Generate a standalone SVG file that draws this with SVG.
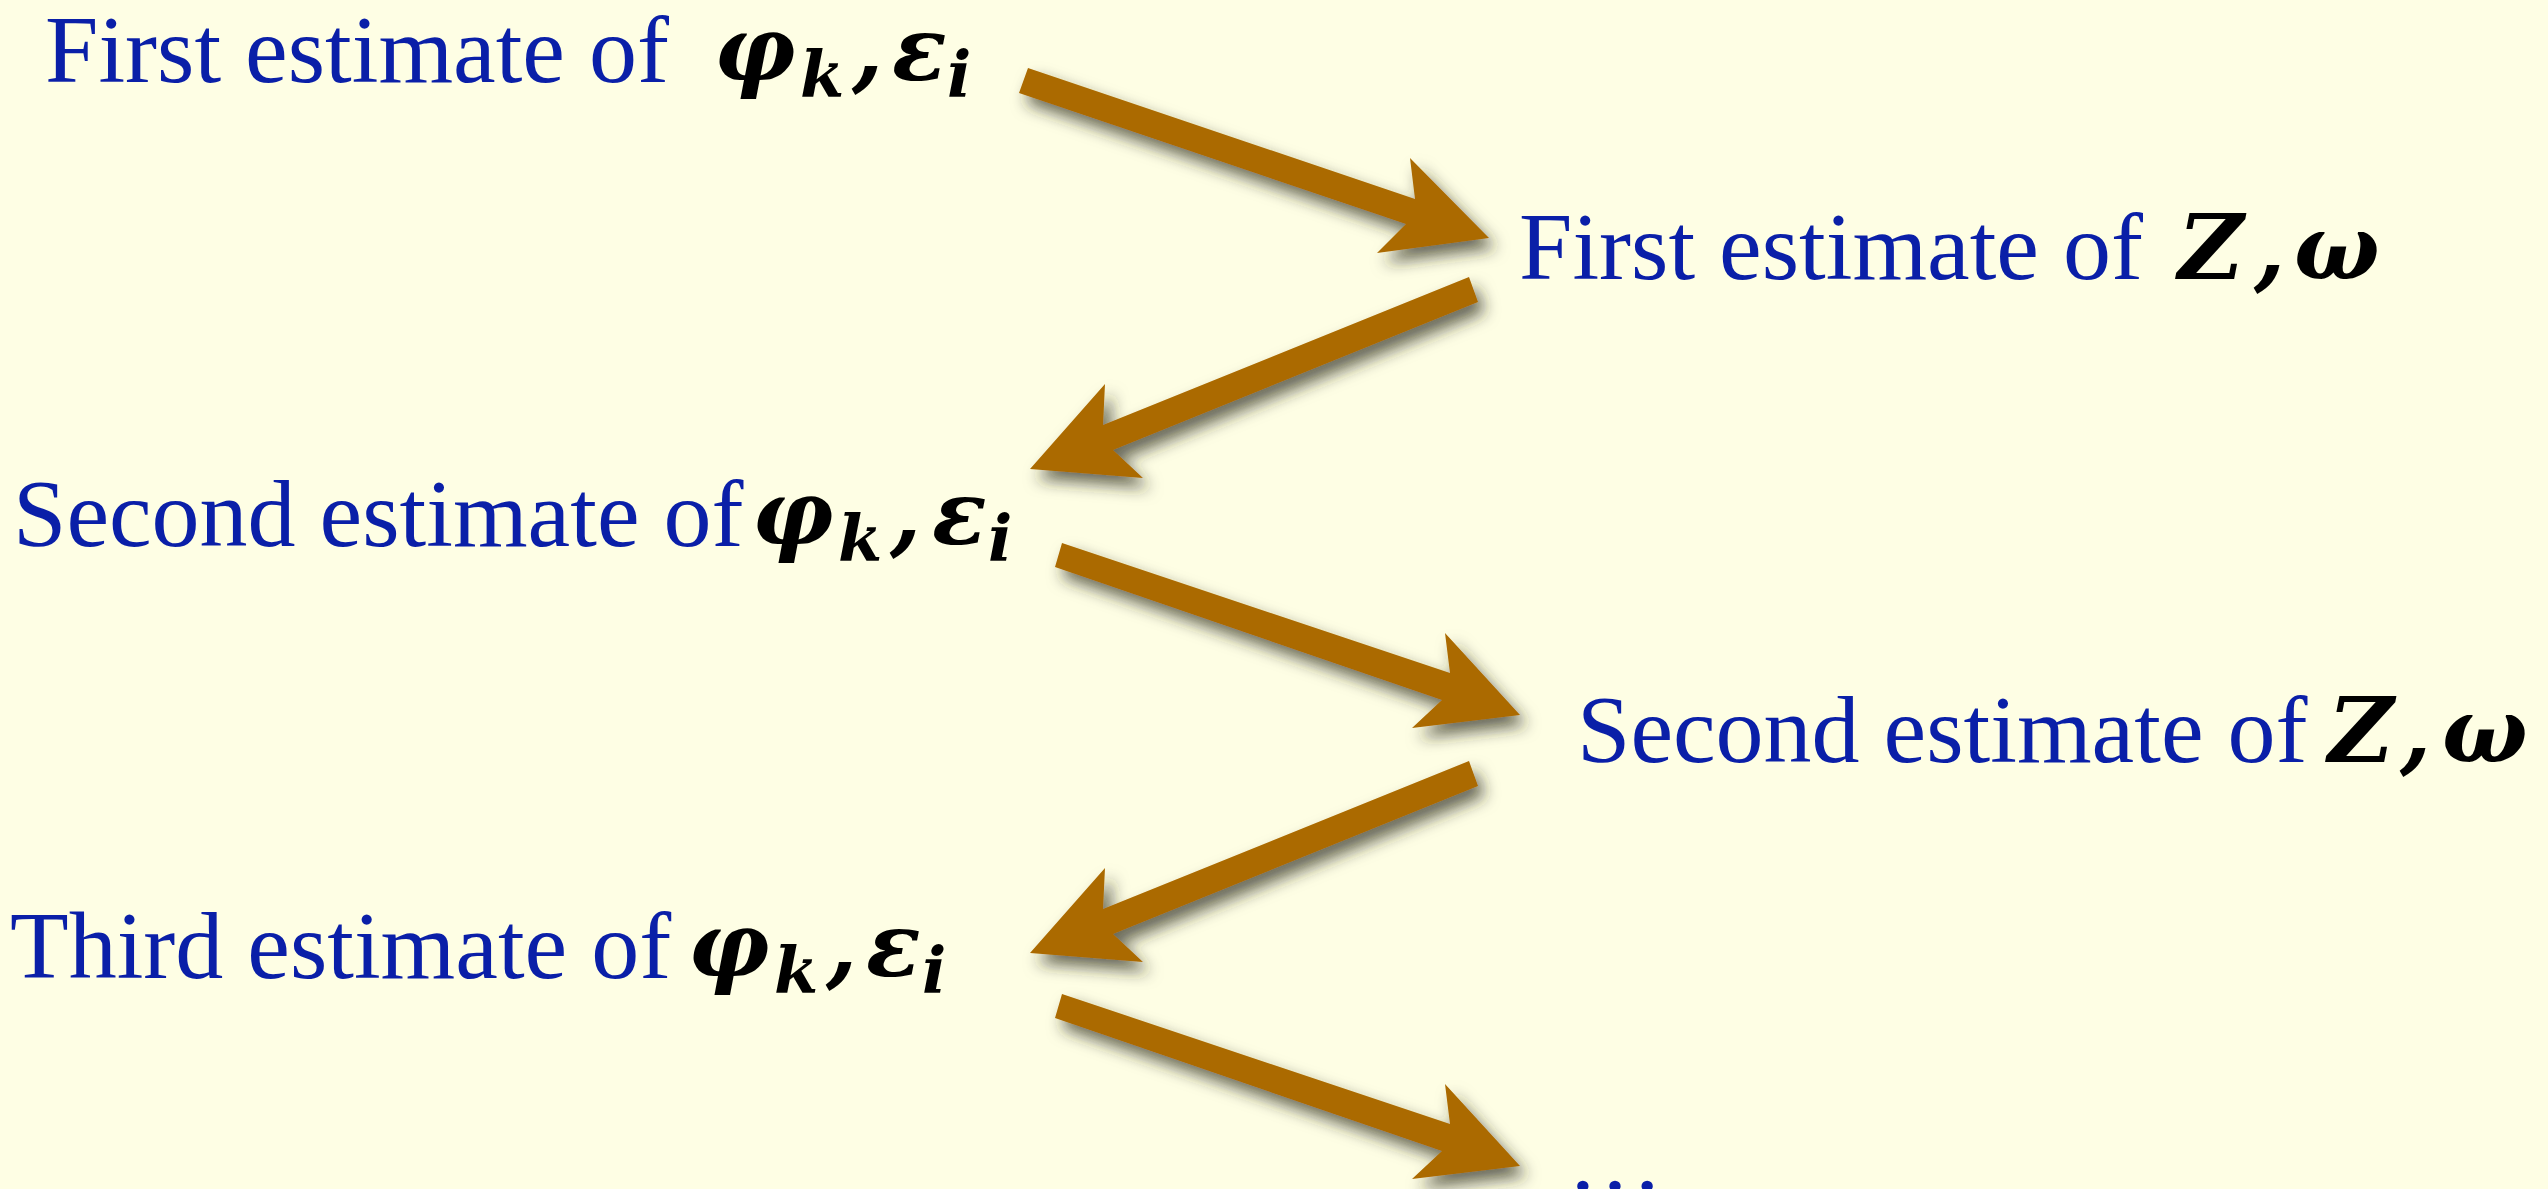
<svg xmlns="http://www.w3.org/2000/svg" width="2548" height="1189" viewBox="0 0 2548 1189">
<style>
.lbl{font-family:"Liberation Serif","Times New Roman",serif;font-size:96px;fill:#0A1FA8}
.m{font-family:"DejaVu Serif","Liberation Serif",serif;font-style:italic;font-weight:bold;font-size:90px;fill:#000}
.s{font-family:"DejaVu Serif","Liberation Serif",serif;font-style:italic;font-weight:bold;font-size:64px;fill:#000}
.arrow{fill:#AB6A00;filter:url(#sh)}
</style>
<defs>
<filter id="sh" x="-20%" y="-40%" width="140%" height="180%">
<feDropShadow dx="7" dy="10" stdDeviation="8" flood-color="#2a2a1e" flood-opacity="0.7"/>
</filter>
</defs>
<rect width="2548" height="1189" fill="#FEFEE4"/>
<g id="connectors">
<polygon class="arrow" points="1028,68 1415,199 1410,158 1489,238 1377,253 1406,224 1019,93"/>
<polygon class="arrow" points="1469,277 1103,425 1105,384 1030,469 1143,478 1113,450 1478,302"/>
<polygon class="arrow" points="1062,543 1450,673 1445,633 1520,715 1412,728 1442,700 1055,567"/>
<polygon class="arrow" points="1469,761 1103,909 1105,868 1030,953 1143,962 1113,934 1478,786"/>
<polygon class="arrow" points="1062,994 1450,1124 1445,1084 1520,1166 1412,1179 1442,1151 1055,1018"/>
</g>
<g id="node1">
<text class="lbl" x="45" y="82">First estimate of</text>
<text class="m" x="714" y="80">φ</text><text class="s" x="800" y="96">k</text><text class="m" x="852" y="80">,</text><text class="m" x="892" y="80">ε</text><text class="s" x="947" y="96">i</text>
</g>
<g id="node2">
<text class="lbl" x="1519" y="279">First estimate of</text>
<text class="m" x="2178" y="279">Z</text><text class="m" x="2254" y="279">,</text><text class="m" x="2294" y="279">ω</text>
</g>
<g id="node3">
<text class="lbl" x="13" y="546">Second estimate of</text>
<text class="m" x="752" y="544">φ</text><text class="s" x="838" y="560">k</text><text class="m" x="890" y="544">,</text><text class="m" x="932" y="544">ε</text><text class="s" x="988" y="560">i</text>
</g>
<g id="node4">
<text class="lbl" x="1577" y="762">Second estimate of</text>
<text class="m" x="2328" y="762">Z</text><text class="m" x="2400" y="762">,</text><text class="m" x="2442" y="762">ω</text>
</g>
<g id="node5">
<text class="lbl" x="10" y="978">Third estimate of</text>
<text class="m" x="688" y="976">φ</text><text class="s" x="774" y="992">k</text><text class="m" x="826" y="976">,</text><text class="m" x="866" y="976">ε</text><text class="s" x="922" y="992">i</text>
</g>
<g id="node6">
<text class="lbl" x="1567" y="1191">…</text>
</g>
</svg>
